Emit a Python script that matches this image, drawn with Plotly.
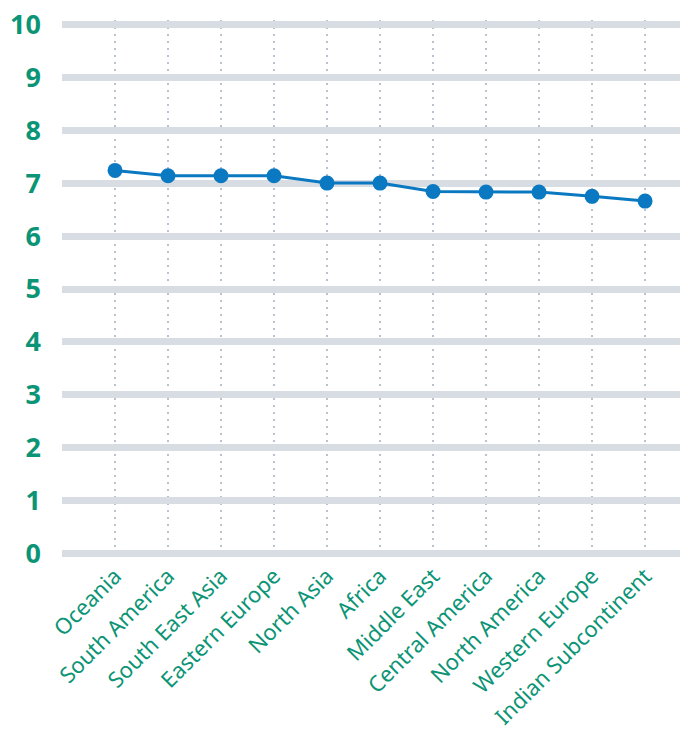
import plotly.graph_objects as go

categories = ["Oceania", "South America", "South East Asia", "Eastern Europe", "North Asia",
              "Africa", "Middle East", "Central America", "North America", "Western Europe",
              "Indian Subcontinent"]
values = [7.24, 7.14, 7.14, 7.14, 7.0, 7.0, 6.84, 6.83, 6.83, 6.75, 6.66]
y_ticks = list(range(0, 11))

green = "#0b9475"
blue = "#0a79c1"
grid = "#d7dde3"

fig = go.Figure()
fig.add_trace(go.Scatter(
    x=list(range(len(categories))), y=values, mode="lines+markers",
    line=dict(color=blue, width=3),
    marker=dict(color=blue, size=15),
    hoverinfo="skip",
))

fig.update_layout(
    width=680, height=728,
    margin=dict(l=54, r=0, t=12, b=178),
    paper_bgcolor="white", plot_bgcolor="white",
    showlegend=False,
    font=dict(family="Noto Sans", color=green),
    xaxis=dict(
        range=[-1, 10.81],
        tickmode="array",
        tickvals=list(range(len(categories))),
        ticktext=categories,
        tickangle=-45,
        tickfont=dict(family="Noto Sans", size=22, color=green),
        showgrid=True, gridcolor="#b9c3cf", gridwidth=1.5, griddash="2px,5px",
        zeroline=False, showline=False, ticks="",
        automargin=False, ticklabeloverflow="allow",
    ),
    yaxis=dict(
        range=[-0.08, 10.08],
        tickmode="array",
        tickvals=y_ticks,
        ticktext=[f"<b>{v}</b>" for v in y_ticks],
        tickfont=dict(family="Noto Sans", size=27, color=green),
        showgrid=True, gridcolor=grid, gridwidth=7,
        zeroline=False, showline=False, ticks="",
        ticklabelstandoff=20,
        automargin=False, ticklabeloverflow="allow",
    ),
)

fig.write_html("out.html")
